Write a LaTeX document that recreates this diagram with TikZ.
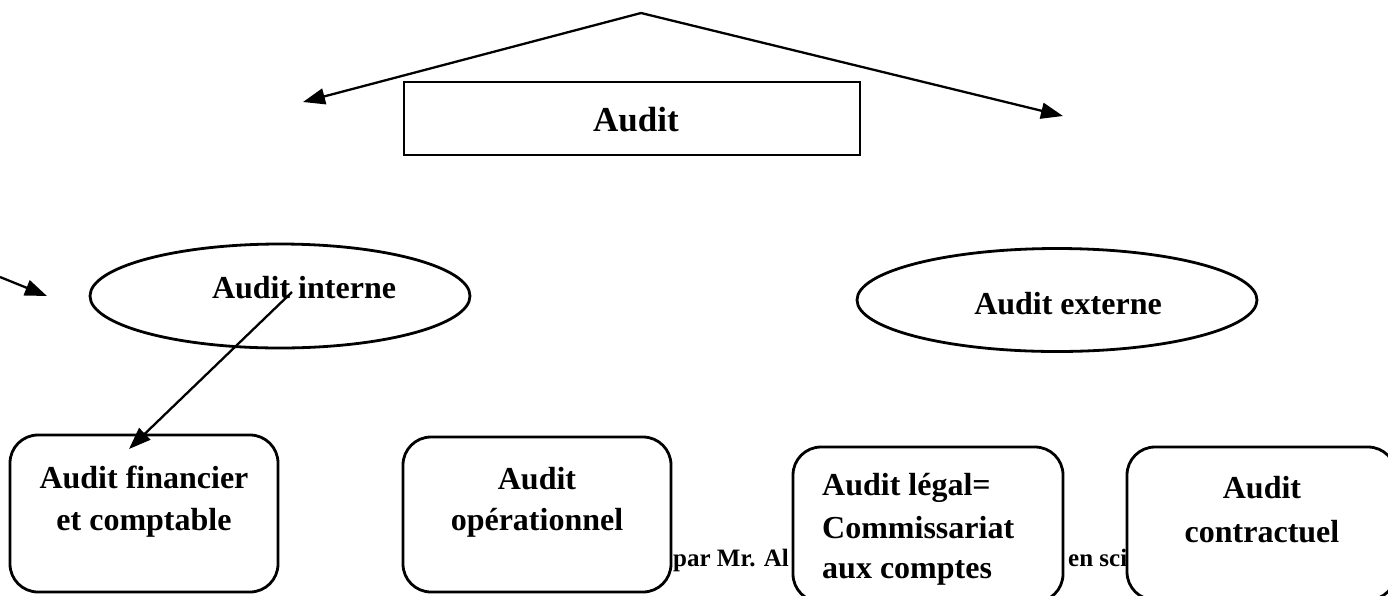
\documentclass[tikz,border=0pt]{standalone}
\usepackage{fontspec}
\setmainfont{Liberation Serif}
\usetikzlibrary{arrows.meta,positioning,shapes.geometric}
\tikzset{
  frame/.style={draw=black,line width=2.8pt,fill=white},
  roundbox/.style={frame,rounded corners=28pt},
  oval/.style={frame,ellipse,inner sep=0pt},
  lbl/.style={font=\fontsize{32}{42}\selectfont\bfseries,anchor=base,inner sep=0pt},
  note/.style={font=\fontsize{25}{30}\selectfont\bfseries,anchor=base west,inner sep=0pt},
  link/.style={line width=2.3pt,-{Triangle[length=22pt,width=16pt]}}
}
\begin{document}
\begin{tikzpicture}[x=1pt,y=-1pt]
  \useasboundingbox (0,0) rectangle (1388,595);
  \clip (0,0) rectangle (1388,595);
  % footer text, partly hidden by the boxes
  \node[note] (foot-a) at (673,566) {par Mr. Al};
  \node[note] (foot-b) at (1068,566) {en sci};
  % top box and its arrows
  \coordinate (apex) at (641,13);
  \coordinate (tip-l) at (303,102);
  \coordinate (tip-r) at (1063,116);
  \draw[link] (apex) -- (tip-l);
  \draw[link] (apex) -- (tip-r);
  \draw[frame] (404,82) rectangle (860,155);
  \node[lbl,font=\fontsize{35}{44}\selectfont\bfseries] (audit) at (636,131) {Audit};
  % ellipses
  \node[oval,minimum width=380pt,minimum height=104pt] (interne) at (280,296) {};
  \node[lbl] (interne-t) at (304,298) {Audit interne};
  \node[oval,minimum width=400pt,minimum height=103pt] (externe) at (1057,300) {};
  \node[lbl] (externe-t) at (1068,314) {Audit externe};
  % small arrow on the left
  \coordinate (in-l) at (0,277);
  \coordinate (in-tip) at (47,296);
  \draw[link] (in-l) -- (in-tip);
  % bottom boxes
  \draw[roundbox] (10,435) rectangle (278,592);
  \draw[roundbox] (403,437) rectangle (671,592);
  \draw[roundbox] (793,447) rectangle (1063,602);
  \draw[roundbox] (1127,447) rectangle (1396,600);
  \node[lbl] (fin-a) at (144,488) {Audit financier};
  \node[lbl] (fin-b) at (144,530) {et comptable};
  \node[lbl] (ope-a) at (537,489) {Audit};
  \node[lbl] (ope-b) at (537,530) {opérationnel};
  \node[lbl,anchor=base west] (leg-a) at (822,495) {Audit légal=};
  \node[lbl,anchor=base west] (leg-b) at (822,538) {Commissariat};
  \node[lbl,anchor=base west] (leg-c) at (822,578) {aux comptes};
  \node[lbl] (con-a) at (1262,498) {Audit};
  \node[lbl] (con-b) at (1262,542) {contractuel};
  % arrow from the ellipse down to the first box
  \coordinate (from-i) at (292,292);
  \coordinate (to-fin) at (129,449);
  \draw[link] (from-i) -- (to-fin);
\end{tikzpicture}
\end{document}
